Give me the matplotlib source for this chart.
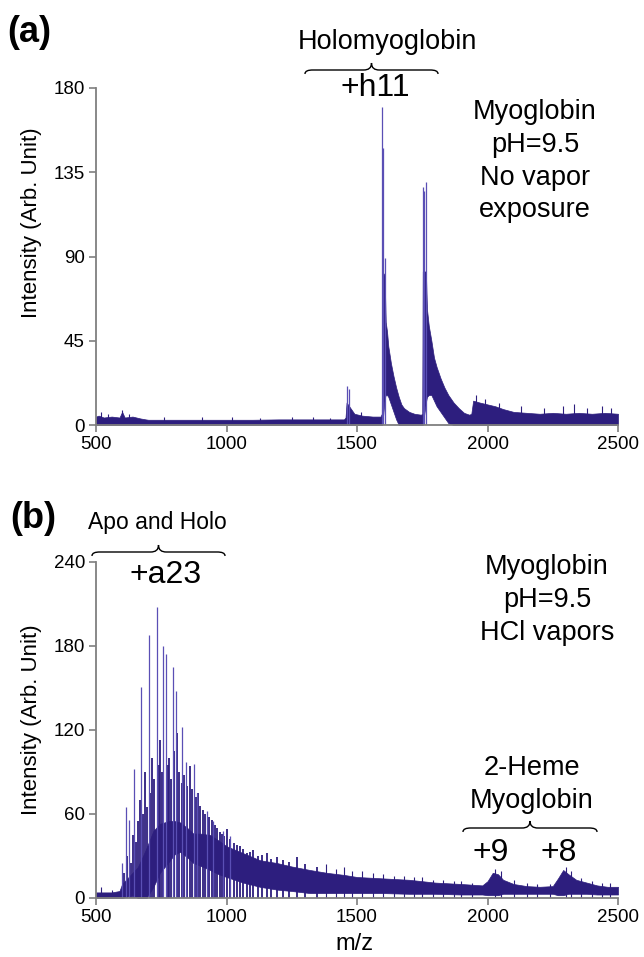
import matplotlib
matplotlib.use('Agg')
import matplotlib.pyplot as plt
from matplotlib.path import Path
from matplotlib.patches import PathPatch

plt.rcParams['font.family'] = ['Liberation Sans', 'DejaVu Sans']

W, H = 644, 957
COL = '#2d1e7e'
GRIS = '#7f7f7f'

# ---- panel (a) : no vapor ----
mz_a = [500, 510, 530, 560, 590, 600, 610, 640, 670, 690, 700, 800, 900, 1000,
        1100, 1200, 1300, 1400, 1450, 1456, 1460, 1475, 1490, 1520, 1560, 1590,
        1595, 1597, 1606, 1610, 1615, 1620, 1630, 1640, 1650, 1660, 1670, 1680,
        1700, 1720, 1745, 1750, 1752, 1764, 1768, 1775, 1785, 1795, 1805, 1820,
        1835, 1850, 1870, 1890, 1910, 1930, 1938, 1945, 1970, 2000, 2030, 2060,
        2100, 2150, 2200, 2250, 2300, 2350, 2400, 2450, 2500]
haut_a = [4.5, 5, 4, 4.5, 4, 7, 4, 4.5, 3.5, 3, 2.8, 2.8, 2.8, 2.8,
          2.8, 3, 3, 3, 3, 4, 12, 9, 6, 5, 4.5, 4.5,
          6, 82, 80, 55, 50, 42, 33, 26, 20, 15, 11, 9,
          7, 6, 5.5, 6, 82, 82, 62, 53, 45, 36, 31, 25,
          20, 16, 12, 9, 6.5, 5.5, 6, 13, 12, 11, 10, 8.5,
          7, 6.5, 6, 6.5, 6, 6.5, 6, 6.5, 6]
bas_a = [0, 0, 0, 0, 0, 0, 0, 0, 0, 0, 0, 0, 0, 0,
         0, 0, 0, 0, 0, 0, 0, 0, 0, 0, 0, 0,
         0, 0, 14, 16, 16, 15, 11, 7, 3, 0, 0, 0,
         0, 0, 0, 0, 0, 12, 15, 16, 16, 13, 10, 7,
         4, 1, 0, 0, 0, 0, 0, 0, 0, 0, 0, 0,
         0, 0, 0, 0, 0, 0, 0, 0, 0]
pics_mz_a = [1461, 1470, 1597, 1601, 1606, 1753, 1758, 1765]
pics_h_a = [21, 19, 170, 148, 89, 127, 125, 130]
bruit_mz_a = [518, 545, 600, 628, 760, 905, 1020, 1130, 1250, 1330, 1395, 1515,
              1955, 1990, 2045, 2130, 2215, 2290, 2330, 2380, 2440, 2475]
bruit_h_a = [7, 6, 8, 6, 4.5, 4.5, 4.5, 4, 4.5, 4.5, 4, 7,
             16, 14, 12, 10, 9, 10, 11, 9, 10, 9]

# ---- panel (b) : HCl vapors ----
mz_b = [500, 560, 590, 600, 620, 640, 660, 680, 694, 720, 745, 780, 800, 822,
        850, 873, 900, 937, 970, 1000, 1064, 1128, 1193, 1250, 1320, 1384,
        1450, 1500, 1600, 1700, 1800, 1900, 1980, 2000, 2020, 2040, 2060, 2100,
        2150, 2200, 2250, 2270, 2290, 2310, 2340, 2380, 2420, 2460, 2500]
haut_b = [4, 4, 5, 10, 14, 18, 22, 30, 36, 48, 53, 55, 55, 54,
          50, 46, 46, 45, 41, 37, 32, 27, 25, 22.5, 20, 18,
          16.5, 15, 14, 13, 11, 10, 9, 12, 18, 17, 13, 10,
          8.5, 8, 8.5, 14, 20, 17, 13, 11, 9, 8, 8]
bas_b = [0, 0, 0, 0, 1, 2, 0, 0, 0, 8, 18, 26, 31, 33,
         29, 25, 23, 20, 17, 15, 11, 8, 6, 5, 3.5, 3.5,
         3.5, 3.5, 3.5, 3, 3, 2.5, 2.5, 2, 2, 2, 3, 3,
         3, 3, 3, 2, 2, 3, 3, 3, 2.5, 2.5, 2.5]
pics_mz_b = [601, 614, 627, 647, 673, 702, 733, 758, 768, 794, 807, 831, 844,
             876, 888, 924, 950, 985, 1012]
pics_h_b = [25, 65, 56, 92, 151, 188, 208, 180, 174, 165, 148, 122, 97,
            96, 75, 62, 55, 48, 44]
fonces_mz_b = [608, 620, 634, 641, 654, 660, 667, 680, 688, 695, 707, 715,
               722, 740, 745, 752, 775, 781, 788, 800, 809, 818, 829, 836,
               850, 860, 868, 882, 892, 900, 909, 917, 932, 944, 956, 963,
               975, 982, 992, 1001, 1015, 1029, 1040, 1052, 1065, 1078, 1090,
               1103, 1120, 1135, 1154, 1170, 1193, 1215, 1240, 1270, 1300, 1346]
fonces_h_b = [18, 30, 25, 45, 40, 55, 70, 60, 90, 65, 75, 100,
              85, 95, 113, 90, 95, 100, 85, 105, 118, 90, 82, 88,
              80, 94, 78, 72, 75, 66, 63, 60, 58, 56, 52, 50,
              47, 46, 44, 49, 42, 39, 38, 37, 35, 32, 33,
              34, 30, 31, 32, 28, 29, 27, 26, 29, 24, 22]
bruit_mz_b = [520, 560, 1380, 1420, 1450, 1480, 1520, 1560, 1600, 1640, 1680,
              1720, 1750, 1790, 1830, 1870, 1900, 1940, 2030, 2050, 2100, 2150,
              2190, 2240, 2300, 2320, 2360, 2400, 2440, 2470]
bruit_h_b = [8, 6, 24, 21, 22, 19, 19, 18, 17, 16, 16,
             15, 15, 13, 13, 12, 12, 11, 21, 19, 13, 11,
             10, 10, 22, 19, 14, 12, 11, 11]


def fx(x):
    return x / W


def fy(y):
    return 1 - y / H


def accolade(fig, x0, x1, y, tip=7, bout=4):
    xm = (x0 + x1) / 2
    pts = [(x0, y + bout), (x0, y + 1), (x0 + 3, y), (x0 + 8, y),
           (xm - 8, y), (xm - 3, y), (xm, y - 2), (xm, y - tip),
           (xm, y - 2), (xm + 3, y), (xm + 8, y),
           (x1 - 8, y), (x1 - 3, y), (x1, y + 1), (x1, y + bout)]
    codes = [Path.MOVETO, Path.CURVE4, Path.CURVE4, Path.CURVE4,
             Path.LINETO, Path.CURVE4, Path.CURVE4, Path.CURVE4,
             Path.CURVE4, Path.CURVE4, Path.CURVE4,
             Path.LINETO, Path.CURVE4, Path.CURVE4, Path.CURVE4]
    pts = [(fx(a), fy(b)) for a, b in pts]
    fig.patches.append(PathPatch(Path(pts, codes), fill=False, lw=1.0,
                                 color='black', transform=fig.transFigure))


def texte(fig, x, y, s, size, **kw):
    fig.text(fx(x), fy(y), s, fontsize=size, ha='center', va='center', **kw)


def spectre(ax, mz, haut, bas, pics_mz, pics_h, bruit_mz, bruit_h, ymax, pas):
    ax.fill_between(mz, bas, haut, color=COL, lw=0.5)
    ax.vlines(bruit_mz, 0, bruit_h, color=COL, lw=0.8)
    ax.vlines(pics_mz, 0, pics_h, color='#5a4fb5', lw=0.9)
    ax.set_xlim(500, 2500)
    ax.set_ylim(0, ymax)
    ax.set_xticks([500, 1000, 1500, 2000, 2500])
    ax.set_yticks(range(0, ymax + 1, pas))
    for c in ['top', 'right']:
        ax.spines[c].set_visible(False)
    for c in ['left', 'bottom']:
        ax.spines[c].set_color(GRIS)
        ax.spines[c].set_linewidth(1.3)
    ax.tick_params(direction='out', length=5, width=1.2, color=GRIS,
                   labelsize=13.5, pad=3)


fig = plt.figure(figsize=(W / 100, H / 100), dpi=100)

# ------------------------------ (a)
ax_a = fig.add_axes([fx(96), fy(425), fx(618 - 96), (425 - 88) / H])
spectre(ax_a, mz_a, haut_a, bas_a, pics_mz_a, pics_h_a, bruit_mz_a, bruit_h_a,
        180, 45)
texte(fig, 29, 33, '(a)', 26, fontweight='bold')
texte(fig, 387, 42, 'Holomyoglobin', 19.5)
accolade(fig, 305, 438, 70)
texte(fig, 375, 88, '+h11', 23)
for y, s in zip([112, 145, 178, 210],
                ['Myoglobin', 'pH=9.5', 'No vapor', 'exposure']):
    texte(fig, 535, y, s, 19.5)
texte(fig, 32, 223, 'Intensity (Arb. Unit)', 16, rotation=90)

# ------------------------------ (b)
ax_b = fig.add_axes([fx(96), fy(898), fx(618 - 96), (898 - 562) / H])
ax_b.vlines(fonces_mz_b, 0, fonces_h_b, color=COL, lw=1.3)
spectre(ax_b, mz_b, haut_b, bas_b, pics_mz_b, pics_h_b, bruit_mz_b, bruit_h_b,
        240, 60)
texte(fig, 33, 518, '(b)', 26, fontweight='bold')
texte(fig, 157, 522, 'Apo and Holo', 16.5)
accolade(fig, 92, 225, 552)
texte(fig, 166, 575, '+a23', 23)
for y, s in zip([567, 600, 633], ['Myoglobin', 'pH=9.5', 'HCl vapors']):
    texte(fig, 547, y, s, 19.5)
texte(fig, 532, 768, '2-Heme', 19.5)
texte(fig, 532, 801, 'Myoglobin', 19.5)
accolade(fig, 463, 597, 828)
texte(fig, 491, 853, '+9', 23)
texte(fig, 559, 853, '+8', 23)
texte(fig, 32, 720, 'Intensity (Arb. Unit)', 16, rotation=90)
texte(fig, 354, 944, 'm/z', 17)

fig.savefig('out.png', dpi=100)
